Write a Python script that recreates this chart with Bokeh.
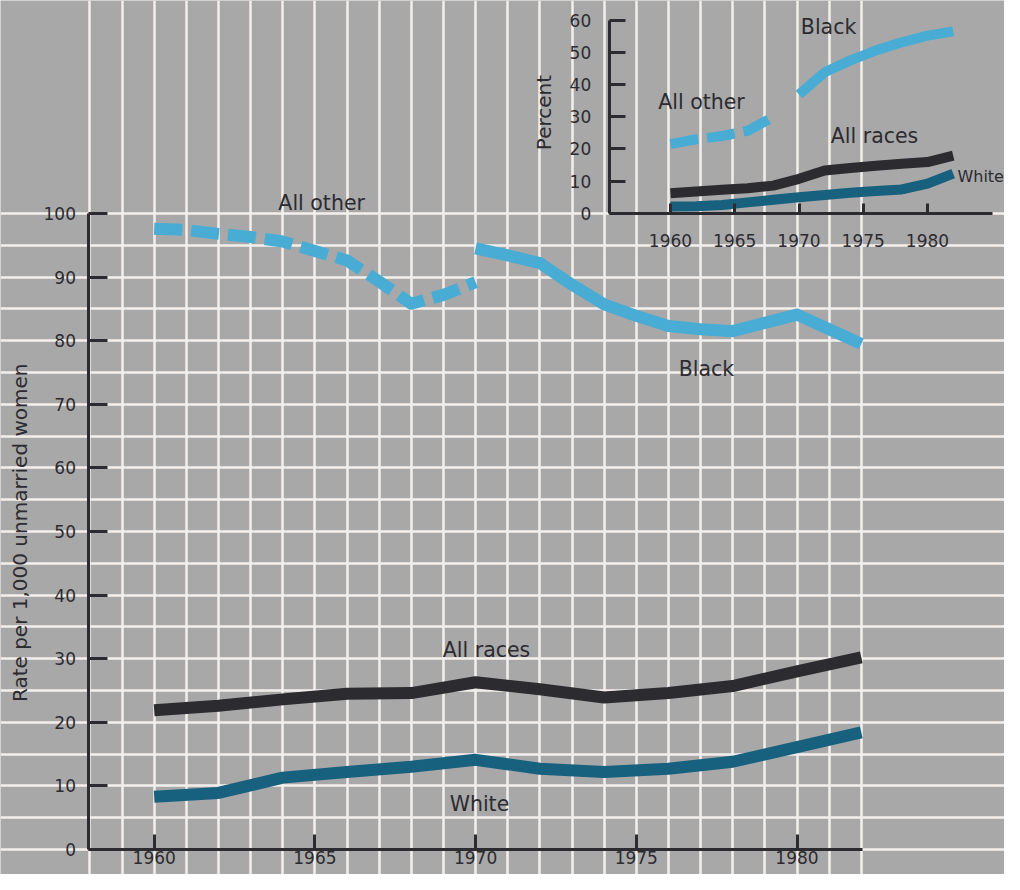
import math
from bokeh.plotting import figure
from bokeh.models import Range1d, LinearAxis, FixedTicker, SingleIntervalTicker
from bokeh.embed import file_html
from bokeh.resources import INLINE
from bokeh.core.properties import value

# ---------------- data: main chart (rate per 1,000 unmarried women) ----------------
main_years = [1960, 1962, 1964, 1966, 1968, 1970, 1972, 1974, 1976, 1978, 1980, 1982]
all_races_rate = [21.9, 22.6, 23.6, 24.5, 24.6, 26.3, 25.2, 23.9, 24.6, 25.7, 28.0, 30.2]
white_rate = [8.3, 8.9, 11.3, 12.2, 13.0, 14.1, 12.7, 12.2, 12.7, 13.8, 16.1, 18.4]
all_other_years = [1960, 1961, 1962, 1963, 1964, 1965, 1966, 1967, 1968, 1969, 1970]
all_other_rate = [97.6, 97.4, 96.8, 96.3, 95.6, 94.1, 92.6, 89.3, 85.8, 87.2, 89.2]
black_years = [1970, 1971, 1972, 1973, 1974, 1975, 1976, 1977, 1978, 1979, 1980, 1981, 1982]
black_rate = [94.5, 93.4, 92.2, 88.8, 85.7, 83.9, 82.3, 81.8, 81.5, 82.8, 84.1, 81.8, 79.5]

# ---------------- data: inset (percent) ----------------
inset_years = [1960, 1962, 1964, 1966, 1968, 1970, 1972, 1974, 1976, 1978, 1980, 1982]
all_races_pct = [6.2, 6.8, 7.3, 7.8, 8.6, 10.7, 13.3, 14.1, 14.8, 15.4, 15.9, 17.9]
white_pct = [2.1, 2.2, 2.6, 3.4, 4.2, 5.0, 5.7, 6.4, 6.9, 7.4, 9.2, 12.3]
all_other_pct_years = [1960, 1962, 1964, 1966, 1968]
all_other_pct = [21.5, 23.0, 24.0, 25.6, 29.9]
black_pct_years = [1970, 1972, 1974, 1976, 1978, 1980, 1982]
black_pct = [36.9, 43.8, 47.5, 50.6, 53.1, 55.2, 56.5]

# ---------------- ticks and labels ----------------
rate_ticks = [0, 10, 20, 30, 40, 50, 60, 70, 80, 90, 100]
year_ticks = [1960, 1965, 1970, 1975, 1980]
pct_ticks = [0, 10, 20, 30, 40, 50, 60]
rate_title = "Rate per 1,000 unmarried women"
pct_title = "Percent"

# ---------------- styles ----------------
BG = "#a8a8a8"
GRID = "#f3efed"
INK = "#2c2b30"
DARKBLUE = "#17617f"
LIGHTBLUE = "#48acd4"
FONT = "DejaVu Sans"
TICK_SIZE = "17px"
LABEL_SIZE = "20.5px"

p = figure(width=1004, height=874,
           x_range=Range1d(1955.218, 1986.456), y_range=Range1d(-3.931, 133.49),
           x_axis_location=None, y_axis_location=None,
           min_border=0, toolbar_location=None, output_backend="svg",
           background_fill_color=BG, border_fill_color=BG, outline_line_color=None)

p.extra_x_ranges = {"ix": Range1d(1907.860, 1985.992)}
p.extra_y_ranges = {"iy": Range1d(-205.34, 66.09)}

p.xgrid.ticker = SingleIntervalTicker(interval=1)
p.ygrid.ticker = SingleIntervalTicker(interval=5)
for g in (p.xgrid, p.ygrid):
    g.grid_line_color = GRID
    g.grid_line_width = 2.5
    g.grid_line_alpha = 1.0

# ---------------- main lines ----------------
p.line(all_other_years, all_other_rate, line_width=12, color=LIGHTBLUE,
       line_dash="28 9", line_cap="butt", line_join="round")
p.line(black_years, black_rate, line_width=12, color=LIGHTBLUE,
       line_cap="butt", line_join="round")
p.line(main_years, all_races_rate, line_width=12, color=INK,
       line_cap="butt", line_join="round")
p.line(main_years, white_rate, line_width=12, color=DARKBLUE,
       line_cap="butt", line_join="round")

# ---------------- inset lines ----------------
ik = dict(x_range_name="ix", y_range_name="iy")
p.line(all_other_pct_years, all_other_pct, line_width=10, color=LIGHTBLUE,
       line_dash="28 9", line_cap="butt", line_join="round", **ik)
p.line(black_pct_years, black_pct, line_width=10, color=LIGHTBLUE,
       line_cap="butt", line_join="round", **ik)
p.line(inset_years, all_races_pct, line_width=10, color=INK,
       line_cap="butt", line_join="round", **ik)
p.line(inset_years, white_pct, line_width=10, color=DARKBLUE,
       line_cap="butt", line_join="round", **ik)


def style_axis(ax, tick_in, standoff):
    ax.major_tick_in = tick_in
    ax.major_tick_out = 0
    ax.minor_tick_line_color = None
    ax.axis_line_width = 3
    ax.axis_line_color = INK
    ax.major_tick_line_width = 3
    ax.major_tick_line_color = INK
    ax.major_label_standoff = standoff
    ax.major_label_text_font = FONT
    ax.major_label_text_font_size = TICK_SIZE
    ax.major_label_text_color = INK


main_y = LinearAxis(fixed_location=1957.97, bounds=(0, 100), ticker=FixedTicker(ticks=rate_ticks))
style_axis(main_y, 19, 13)
p.add_layout(main_y, "left")

main_x = LinearAxis(fixed_location=0, bounds=(1957.97, 1982.05), ticker=FixedTicker(ticks=year_ticks))
style_axis(main_x, 15, 2)
p.add_layout(main_x, "below")

inset_y = LinearAxis(fixed_location=1955.23, bounds=(0, 60), ticker=FixedTicker(ticks=pct_ticks), **ik)
style_axis(inset_y, 16, 18)
p.add_layout(inset_y, "left")

inset_x = LinearAxis(fixed_location=0, bounds=(1955.23, 1985.08), ticker=FixedTicker(ticks=year_ticks), **ik)
style_axis(inset_x, 10, 21)
p.add_layout(inset_x, "below")

# ---------------- text labels ----------------
tk = dict(text_font=value(FONT), text_color=INK, text_baseline="middle")
p.text(x=[1965.21, 1977.18, 1970.34, 1970.12], y=[101.6, 75.6, 31.3, 7.1],
       text=["All other", "Black", "All races", "White"], text_align="center",
       text_font_size=LABEL_SIZE, **tk)
p.text(x=[1972.30, 1962.41, 1975.88], y=[58.0, 34.6, 23.9],
       text=["Black", "All other", "All races"], text_align="center",
       text_font_size=LABEL_SIZE, **tk, **ik)
p.text(x=[1982.33], y=[11.4], text=["White"], text_align="left",
       text_font_size="16px", **tk, **ik)

ak = dict(text_font=value(FONT), text_font_size="20px", text_color=INK,
          text_baseline="middle", text_align="center", angle=math.pi / 2)
p.text(x=[1955.84], y=[49.8], text=[rate_title], **ak)
p.text(x=[1950.19], y=[31.3], text=[pct_title], **ak, **ik)

open("out.html", "w").write(file_html(p, INLINE))
